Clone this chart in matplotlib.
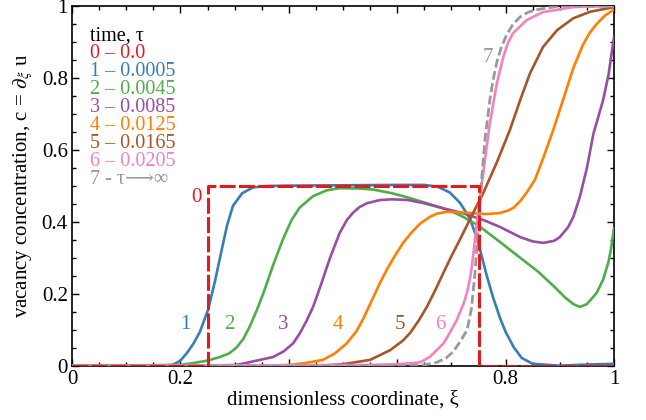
import matplotlib
matplotlib.use("Agg")
import matplotlib.pyplot as plt
from matplotlib.ticker import MultipleLocator, FixedLocator, FixedFormatter

plt.rcParams['font.family'] = ['Liberation Serif', 'DejaVu Serif']
plt.rcParams['mathtext.fontset'] = 'stix'

# ---- data ----
x0 = [0, 0.25, 0.25, 0.75, 0.75, 1.0]
c0 = [0, 0, 0.5, 0.5, 0, 0]

x1 = [0, 0.15, 0.186, 0.2, 0.212, 0.224, 0.236, 0.251, 0.264, 0.277, 0.286, 0.297, 0.314,
      0.334, 0.36, 0.4, 0.5, 0.6, 0.65, 0.675, 0.697, 0.716, 0.734, 0.747, 0.756, 0.765,
      0.777, 0.79, 0.80, 0.815, 0.83, 0.85, 0.9, 0.95, 1.0]
c1 = [0, 0, 0.003, 0.015, 0.036, 0.062, 0.095, 0.156, 0.237, 0.328, 0.39, 0.445, 0.48,
      0.496, 0.5, 0.501, 0.502, 0.503, 0.503, 0.498, 0.482, 0.453, 0.41, 0.355, 0.305, 0.252,
      0.19, 0.132, 0.095, 0.052, 0.022, 0.006, 0.001, 0.004, 0.006]

x2 = [0, 0.2, 0.223, 0.25, 0.273, 0.29, 0.304, 0.316, 0.328, 0.341, 0.355, 0.371, 0.39,
      0.405, 0.42, 0.445, 0.47, 0.494, 0.53, 0.556, 0.59, 0.62, 0.655, 0.68, 0.70, 0.722,
      0.75, 0.79, 0.83, 0.86, 0.89, 0.91, 0.925, 0.937, 0.95, 0.968, 0.98, 0.99, 0.995, 1.0]
c2 = [0, 0.003, 0.008, 0.015, 0.025, 0.035, 0.052, 0.075, 0.11, 0.155, 0.21, 0.28, 0.355,
      0.405, 0.44, 0.472, 0.488, 0.494, 0.493, 0.49, 0.48, 0.468, 0.452, 0.44, 0.43, 0.414,
      0.39, 0.344, 0.297, 0.262, 0.22, 0.19, 0.172, 0.164, 0.172, 0.203, 0.24, 0.29, 0.33, 0.383]

x3 = [0, 0.25, 0.304, 0.347, 0.371, 0.39, 0.408, 0.42, 0.433, 0.445, 0.458, 0.476, 0.494,
      0.507, 0.518, 0.53, 0.544, 0.568, 0.59, 0.62, 0.65, 0.68, 0.72, 0.76, 0.79, 0.827,
      0.85, 0.87, 0.89, 0.90, 0.915, 0.925, 0.937, 0.95, 0.962, 0.98, 0.99, 1.0]
c3 = [0, 0.001, 0.003, 0.017, 0.025, 0.04, 0.063, 0.09, 0.126, 0.165, 0.22, 0.3, 0.37,
      0.405, 0.425, 0.441, 0.452, 0.461, 0.463, 0.461, 0.452, 0.44, 0.425, 0.405, 0.386,
      0.358, 0.346, 0.342, 0.348, 0.358, 0.385, 0.414, 0.47, 0.55, 0.645, 0.739, 0.81, 0.914]

x4 = [0, 0.35, 0.402, 0.43, 0.463, 0.485, 0.507, 0.525, 0.537, 0.55, 0.568, 0.581, 0.596,
      0.611, 0.626, 0.642, 0.66, 0.673, 0.69, 0.703, 0.734, 0.765, 0.79, 0.805, 0.815, 0.827,
      0.839, 0.854, 0.87, 0.888, 0.906, 0.925, 0.943, 0.955, 0.968, 0.983, 1.0]
c4 = [0, 0.0, 0.003, 0.008, 0.017, 0.035, 0.063, 0.097, 0.13, 0.172, 0.23, 0.268, 0.307,
      0.342, 0.37, 0.395, 0.414, 0.423, 0.428, 0.428, 0.425, 0.422, 0.425, 0.432, 0.44,
      0.458, 0.482, 0.517, 0.58, 0.656, 0.739, 0.828, 0.893, 0.925, 0.95, 0.973, 0.99]

x5 = [0, 0.45, 0.5, 0.55, 0.587, 0.61, 0.624, 0.64, 0.655, 0.67, 0.685, 0.70, 0.716, 0.74,
      0.758, 0.771, 0.785, 0.808, 0.827, 0.845, 0.869, 0.895, 0.925, 0.956, 1.0]
c5 = [0, 0.0, 0.005, 0.017, 0.044, 0.07, 0.092, 0.127, 0.165, 0.21, 0.258, 0.305, 0.352, 0.425,
      0.478, 0.522, 0.57, 0.656, 0.739, 0.813, 0.886, 0.933, 0.966, 0.984, 0.997]

x6 = [0, 0.55, 0.6, 0.642, 0.66, 0.673, 0.685, 0.697, 0.71, 0.716, 0.723, 0.729, 0.734,
      0.738, 0.745, 0.752, 0.76, 0.771, 0.784, 0.796, 0.805, 0.814, 0.839, 0.869, 0.925, 1.0]
c6 = [0, 0.003, 0.005, 0.01, 0.025, 0.044, 0.062, 0.092, 0.128, 0.15, 0.175, 0.205, 0.24,
      0.28, 0.37, 0.46, 0.55, 0.675, 0.786, 0.86, 0.9, 0.925, 0.961, 0.983, 0.997, 1.0]

x7 = [0, 0.6, 0.65, 0.673, 0.69, 0.703, 0.715, 0.729, 0.737, 0.743, 0.748, 0.752, 0.757,
      0.762, 0.771, 0.777, 0.784, 0.792, 0.802, 0.814, 0.827, 0.842, 0.858, 0.9, 1.0]
c7 = [0, 0, 0.003, 0.01, 0.022, 0.039, 0.065, 0.1, 0.16, 0.25, 0.35, 0.44, 0.54,
      0.63, 0.74, 0.795, 0.845, 0.885, 0.92, 0.95, 0.97, 0.983, 0.99, 1.0, 1.0]

colors = ['#e41a1c', '#377eb8', '#4daf4a', '#984ea3', '#ff7f00', '#a65628', '#f781bf', '#999999']
legend_lines = ['time, τ', '0 – 0.0', '1 – 0.0005', '2 – 0.0045', '3 – 0.0085',
                '4 – 0.0125', '5 – 0.0165', '6 – 0.0205', '7 - τ⟶∞']
curve_labels = ['0', '1', '2', '3', '4', '5', '6', '7']
label_pos_x = [0.229, 0.21, 0.29, 0.39, 0.49, 0.605, 0.68, 0.768]
label_pos_c = [0.467, 0.115, 0.115, 0.115, 0.115, 0.115, 0.115, 0.858]

xtick_vals = [0, 0.2, 0.4, 0.6, 0.8, 1.0]
xtick_labels = ['0', '0.2', '', '', '0.8', '1']
ytick_vals = [0, 0.2, 0.4, 0.6, 0.8, 1.0]
ytick_labels = ['0', '0.2', '0.4', '0.6', '0.8', '1']

# ---- figure ----
fig = plt.figure(figsize=(6.46, 4.2), dpi=100)
ax = fig.add_axes([72/646, 54/420, 542/646, 360/420])

solid = [(x1, c1), (x2, c2), (x3, c3), (x4, c4), (x5, c5), (x6, c6)]
for i, (xs, cs) in enumerate(solid):
    ax.plot(xs, cs, color=colors[i + 1], lw=1.9, solid_capstyle='round',
            solid_joinstyle='round', zorder=3)
ax.plot(x7, c7, color=colors[7], lw=2.0, dashes=(3.2, 1.3), zorder=4)
ax.plot(x0, c0, color=colors[0], lw=2.2, dashes=(5.2, 1.1), zorder=5)

for i, t in enumerate(curve_labels):
    ax.text(label_pos_x[i], label_pos_c[i], t, color=colors[i], fontsize=15,
            ha='center', va='center', zorder=6)

ly = [0.917, 0.867, 0.817, 0.769, 0.719, 0.669, 0.619, 0.567, 0.517]
for i, t in enumerate(legend_lines):
    col = 'black' if i == 0 else colors[i - 1]
    ax.text(0.033, ly[i], t, color=col, fontsize=14.5, ha='left', va='center', zorder=6)

ax.set_xlim(0, 1)
ax.set_ylim(0, 1)
ax.xaxis.set_major_locator(FixedLocator(xtick_vals))
ax.xaxis.set_major_formatter(FixedFormatter(xtick_labels))
ax.yaxis.set_major_locator(FixedLocator(ytick_vals))
ax.yaxis.set_major_formatter(FixedFormatter(ytick_labels))
ax.xaxis.set_minor_locator(MultipleLocator(0.05))
ax.yaxis.set_minor_locator(MultipleLocator(0.05))
ax.tick_params(which='both', direction='in', top=True, right=True, width=1.0,
               labelsize=15, pad=3)
ax.tick_params(which='major', length=5)
ax.tick_params(which='minor', length=3)
for s in ax.spines.values():
    s.set_linewidth(1.2)

ax.set_xlabel('dimensionless coordinate, ξ', fontsize=15, labelpad=1)
ax.set_ylabel(r'vacancy concentration, c = $\partial_{\xi}$ u', fontsize=15, labelpad=5)

fig.savefig('out.png', dpi=100)
